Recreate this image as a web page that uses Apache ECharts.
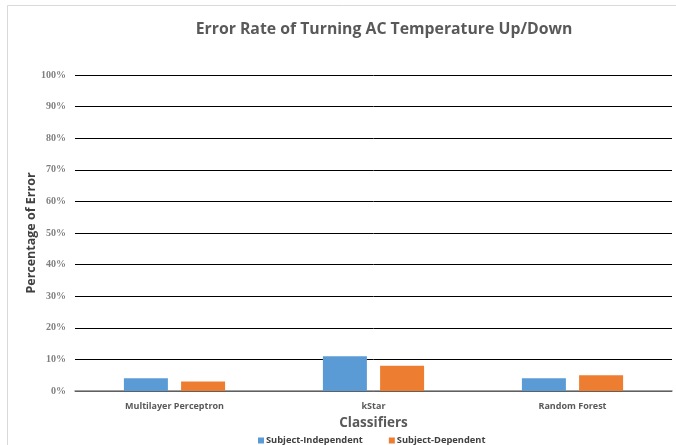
<!DOCTYPE html>
<html>
<head>
<meta charset="utf-8">
<script src="https://cdn.jsdelivr.net/npm/echarts@6/dist/echarts.min.js"></script>
<style>
  html, body { margin: 0; padding: 0; background: #fff; }
  #chart { width: 676px; height: 445px; }
</style>
</head>
<body>
<div id="chart"></div>
<script>
// Classifier error rates (%) for the AC temperature up/down gesture
const classifiers = ['Multilayer Perceptron', 'kStar', 'Random Forest'];
const subjectIndependent = [4, 11, 4];
const subjectDependent = [3, 8, 5];
const seriesNames = ['Subject-Independent', 'Subject-Dependent'];
const yTicks = [0, 10, 20, 30, 40, 50, 60, 70, 80, 90, 100];

const chart = echarts.init(document.getElementById('chart'), null, { renderer: 'canvas' });

const sansBold = { fontFamily: 'Open Sans', fontWeight: 'bold' };

chart.setOption({
  backgroundColor: '#ffffff',
  animation: false,
  graphic: [{
    type: 'rect',
    shape: { x: 7.5, y: 5.5, width: 680, height: 450 },
    style: { fill: 'none', stroke: '#d9d9d9', lineWidth: 1 },
    silent: true
  }],
  title: {
    text: 'Error Rate of Turning AC Temperature Up/Down',
    left: 379,
    textAlign: 'center',
    top: 16,
    textStyle: { ...sansBold, fontSize: 15.8, color: '#595959' }
  },
  legend: {
    data: seriesNames,
    top: 431,
    left: 253,
    itemWidth: 6,
    itemHeight: 6,
    itemGap: 26,
    icon: 'rect',
    textStyle: { ...sansBold, fontSize: 9.3, color: '#404040', padding: [0, 0, 0, -3] }
  },
  grid: { left: 75, right: 4, top: 75, bottom: 54, containLabel: false },
  xAxis: {
    type: 'category',
    data: classifiers,
    name: 'Classifiers',
    nameLocation: 'middle',
    nameMoveOverlap: false,
    nameGap: 25,
    nameTextStyle: { ...sansBold, fontSize: 13.5, color: '#595959' },
    axisLine: { lineStyle: { color: '#808080', width: 1.5 } },
    axisTick: { show: false },
    axisLabel: { ...sansBold, fontSize: 9, color: '#595959', margin: 11 }
  },
  yAxis: {
    type: 'value',
    min: yTicks[0],
    max: yTicks[yTicks.length - 1],
    interval: 10,
    name: 'Percentage of Error',
    nameLocation: 'middle',
    nameMoveOverlap: false,
    nameGap: 37,
    nameTextStyle: { ...sansBold, fontSize: 12.5, color: '#404040' },
    axisLine: { show: false },
    axisTick: { show: false },
    splitLine: { lineStyle: { color: '#000000', width: 1 } },
    axisLabel: {
      formatter: v => v + '%',
      fontFamily: 'Liberation Serif',
      fontWeight: 'bold',
      fontSize: 10,
      color: '#7f7f7f',
      margin: 9
    }
  },
  series: [
    {
      name: seriesNames[0],
      type: 'bar',
      data: subjectIndependent,
      barWidth: 44,
      barGap: '30%',
      itemStyle: { color: '#5b9bd5' }
    },
    {
      name: seriesNames[1],
      type: 'bar',
      data: subjectDependent,
      barWidth: 44,
      itemStyle: { color: '#ed7d31' }
    }
  ]
});
</script>
</body>
</html>
